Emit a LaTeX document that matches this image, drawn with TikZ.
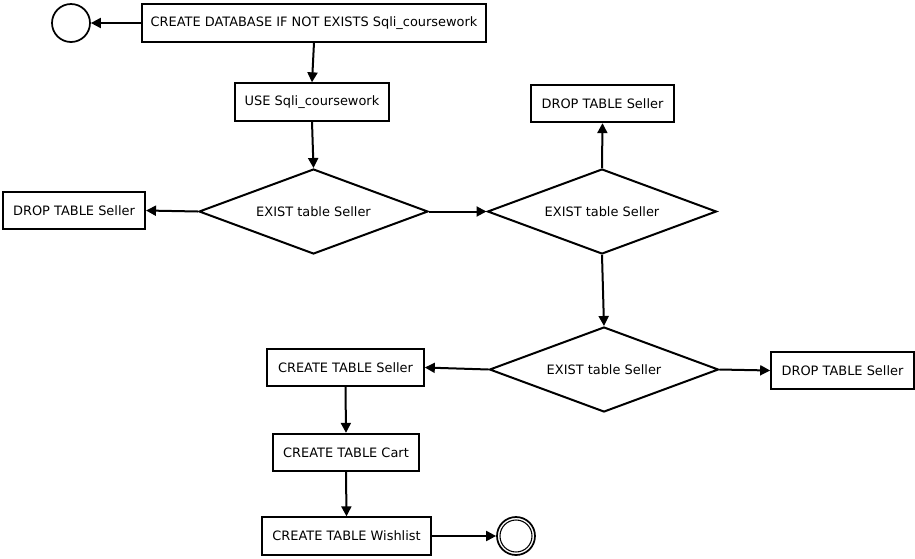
\documentclass[tikz,border=0pt]{standalone}
\usepackage{fontspec}
\setmainfont{DejaVu Sans}
\usetikzlibrary{shapes.geometric,arrows.meta}
\begin{document}
\begin{tikzpicture}[x=0.75pt,y=-0.75pt,
  every node/.style={font=\fontsize{9.7pt}{11pt}\selectfont},
  box/.style={draw,line width=1.5pt,rectangle,inner sep=0pt,minimum height=28pt},
  dec/.style={draw,line width=1.5pt,diamond,aspect=2.7,inner sep=0pt,minimum width=171.75pt,minimum height=63.75pt},
  flow/.style={line width=1.5pt,-{Triangle[length=7.5pt,width=7.5pt]}},
  terminal/.style={draw,line width=1.3pt,circle,minimum size=28.5pt,inner sep=0pt}]
\useasboundingbox (0,0) rectangle (915,558);
\node[terminal] (start) at (71,23) {};
\node[box,minimum width=258pt] (create) at (314,23) {CREATE DATABASE IF NOT EXISTS Sqli\_coursework};
\node[box,minimum width=115.5pt] (use) at (312,102) {USE Sqli\_coursework};
\node[dec] (d1) at (313.5,211.5) {EXIST table Seller};
\node[box,minimum width=106.5pt] (dropL) at (74,210.5) {DROP TABLE Seller};
\node[dec] (d2) at (602,211.5) {EXIST table Seller};
\node[box,minimum width=107pt] (dropT) at (602.5,103.5) {DROP TABLE Seller};
\node[dec] (d3) at (604,369.5) {EXIST table Seller};
\node[box,minimum width=107pt] (dropR) at (842.5,370.5) {DROP TABLE Seller};
\node[box,minimum width=117.5pt] (cseller) at (345.5,367.5) {CREATE TABLE Seller};
\node[box,minimum width=109.5pt] (ccart) at (346,452.5) {CREATE TABLE Cart};
\node[box,minimum width=126.5pt] (cwish) at (346.5,536) {CREATE TABLE Wishlist};
\node[terminal] (end) at (516,536) {};
\draw[line width=0.8pt] (end.center) circle[radius=12pt];
\draw[flow] (create.west) -- (start.east);
\draw[flow] (create.south) -- (use.north);
\draw[flow] (use.south) -- (d1.north);
\draw[flow] (d1.west) -- (dropL.east);
\draw[flow] (d1.east) -- (d2.west);
\draw[flow] (d2.north) -- (dropT.south);
\draw[flow] (d2.south) -- (d3.north);
\draw[flow] (d3.west) -- (cseller.east);
\draw[flow] (d3.east) -- (dropR.west);
\draw[flow] (cseller.south) -- (ccart.north);
\draw[flow] (ccart.south) -- (cwish.north);
\draw[flow] (cwish.east) -- (end.west);
\end{tikzpicture}
\end{document}
